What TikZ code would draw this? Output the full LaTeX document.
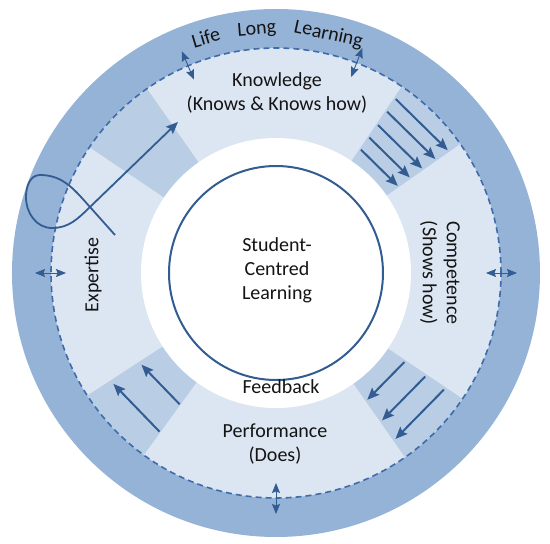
\documentclass[tikz,border=0pt]{standalone}
\usepackage{fontspec}
\setmainfont{Carlito}
\usetikzlibrary{arrows.meta,calc}
\definecolor{ringouter}{RGB}{149,179,215}
\definecolor{ringlight}{RGB}{220,230,242}
\definecolor{bandcol}{RGB}{185,205,229}
\definecolor{arrcol}{RGB}{50,92,146}
\definecolor{dashcol}{RGB}{62,108,170}
\definecolor{txtcol}{RGB}{20,20,20}
\begin{document}
\begin{tikzpicture}[
  lbl/.style={font=\fontsize{20}{24}\selectfont, text=txtcol, align=center, inner sep=0pt},
  bandarrow/.style={draw=arrcol, line width=2pt, -{Stealth[length=12pt,width=10pt,inset=2pt]}},
  loopstyle/.style={draw=arrcol, line width=1.8pt, -{Stealth[length=12pt,width=10pt,inset=2pt]}},
  dblarrow/.style={draw=arrcol, line width=0.9pt, {Stealth[length=10pt,width=8pt,inset=1.5pt]}-{Stealth[length=10pt,width=8pt,inset=1.5pt]}},
  corestyle/.style={circle, draw=arrcol, line width=2pt, minimum size=214pt, inner sep=0pt}
]
\useasboundingbox (-276pt,-271pt) rectangle (274pt,273pt);
% rings
\fill[ringouter] (0,0) circle[radius=264pt];
\fill[ringlight] (0,0) circle[radius=225pt];
\foreach \a/\b in {35/56, 125/146, 213/234, -55/-34} {
  \fill[bandcol] (\a:135pt) -- (\a:225pt) arc[start angle=\a, end angle=\b, radius=225pt]
     -- (\b:135pt) arc[start angle=\b, end angle=\a, radius=135pt] -- cycle;
}
\fill[white] (0,0) circle[radius=135pt];
\draw[dashcol, line width=1.6pt, dash pattern=on 6pt off 4pt] (0,0) circle[radius=225pt];
\node[corestyle] (core) at (0,0) {};

% double arrows across the dashed circle
\foreach \t [count=\i] in {0,69,113,180,270} {
  \coordinate (din\i) at (\t:210pt);
  \coordinate (dout\i) at (\t:241pt);
  \draw[dblarrow] (din\i) -- (dout\i);
}

% upper-right band arrows (Knowledge -> Competence)
\foreach \r [count=\i] in {208,193,177,162,147.5} {
  \pgfmathsetmacro\h{0.175*\r}
  \coordinate (urs\i) at ($(45.5:\r pt)+(135.5:\h pt)$);
  \coordinate (urt\i) at ($(45.5:\r pt)+(-44.5:\h pt)$);
  \draw[bandarrow] (urs\i) -- (urt\i);
}
% lower-right band arrows (Competence -> Performance)
\foreach \r [count=\i] in {154,179,201.5} {
  \pgfmathsetmacro\h{0.172*\r}
  \coordinate (lrs\i) at ($(-44.5:\r pt)+(45.5:\h pt)$);
  \coordinate (lrt\i) at ($(-44.5:\r pt)+(-134.5:\h pt)$);
  \draw[bandarrow] (lrs\i) -- (lrt\i);
}
% lower-left band arrows (Performance -> Expertise)
\foreach \r [count=\i] in {160.5,194} {
  \pgfmathsetmacro\h{0.171*\r}
  \coordinate (lls\i) at ($(224:\r pt)+(314:\h pt)$);
  \coordinate (llt\i) at ($(224:\r pt)+(134:\h pt)$);
  \draw[bandarrow] (lls\i) -- (llt\i);
}
% looped arrow (Expertise -> Knowledge)
\coordinate (xs) at (-161pt,38pt);
\coordinate (xc) at (-186pt,66pt);
\coordinate (xtop) at (-236pt,98pt);
\coordinate (xleft) at (-250pt,76pt);
\coordinate (xbot) at (-224pt,45pt);
\coordinate (xtip) at (-98pt,151pt);
\draw[loopstyle] (xs) -- (xc) to[out=132,in=0] (xtop) to[out=180,in=90] (xleft)
   to[out=-90,in=180] (xbot) to[out=0,in=224] (xc) -- (xtip);

% labels
\node[lbl] (know) at (1pt,180pt) {Knowledge\\(Knows \& Knows how)};
\node[lbl] (scl) at (1pt,3pt) {Student-\\Centred\\Learning};
\node[lbl] (fb) at (5pt,-114pt) {Feedback};
\node[lbl] (perf) at (-1pt,-171pt) {Performance\\(Does)};
\node[lbl, rotate=-90] (comp) at (164pt,0pt) {Competence\\(Shows how)};
\node[lbl, rotate=90] (exp) at (-183pt,-2pt) {Expertise};
\node[lbl, anchor=base, rotate=16.6] (life) at (106.6:239pt) {Life};
\node[lbl, anchor=base, rotate=4.5] (long) at (94.5:239pt) {Long};
\node[lbl, anchor=base, rotate=-12.4] (learn) at (77.6:239pt) {Learning};
\end{tikzpicture}
\end{document}
